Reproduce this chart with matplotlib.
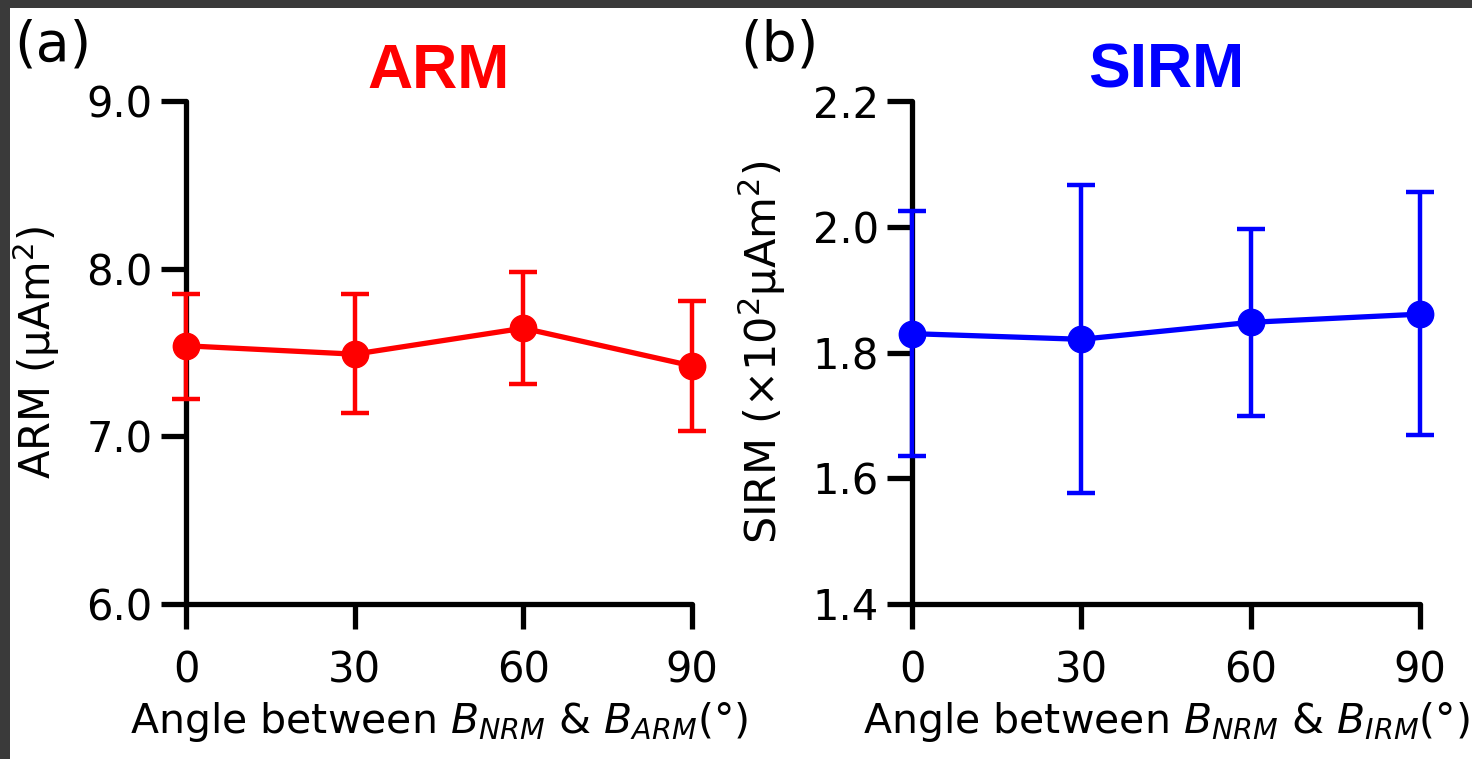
import numpy as np
import matplotlib
matplotlib.use("Agg")
import matplotlib.pyplot as plt
from matplotlib.patches import Rectangle

# data
angles = [0, 30, 60, 90]

arm = [7.54, 7.49, 7.645, 7.42]
arm_top = [7.85, 7.85, 7.98, 7.81]
arm_bot = [7.225, 7.14, 7.31, 7.03]

sirm = [1.830, 1.821, 1.848, 1.861]
sirm_top = [2.025, 2.067, 1.997, 2.055]
sirm_bot = [1.635, 1.576, 1.699, 1.668]

arm_yticks = [6.0, 7.0, 8.0, 9.0]
sirm_yticks = [1.4, 1.6, 1.8, 2.0, 2.2]

plt.rcParams['font.family'] = ['DejaVu Sans']
plt.rcParams['mathtext.fontset'] = 'dejavusans'

fig = plt.figure(figsize=(14.72, 7.59), dpi=100)
ax1 = fig.add_axes([186/1472, 1-604/759, 506/1472, 503/759])
ax2 = fig.add_axes([912/1472, 1-604/759, 508/1472, 503/759])


def style(ax, yticks, fmt):
    for s in ['top', 'right']:
        ax.spines[s].set_visible(False)
    for s in ['left', 'bottom']:
        ax.spines[s].set_linewidth(3.8)
        ax.spines[s].set_capstyle('round')
    ax.set_xlim(0, 90)
    ax.set_ylim(yticks[0], yticks[-1])
    ax.set_xticks(angles)
    ax.set_yticks(yticks)
    ax.set_yticklabels([fmt.format(t) for t in yticks])
    ax.tick_params(axis='both', length=18, width=3.8, labelsize=30)
    ax.tick_params(axis='y', pad=6)
    ax.tick_params(axis='x', pad=15)


def draw(ax, y, top, bot, col):
    y = np.array(y)
    err = [y - np.array(bot), np.array(top) - y]
    eb = ax.errorbar(angles, y, yerr=err, color=col, lw=3.8, marker='o', ms=19,
                     capsize=10, capthick=3.2, elinewidth=3.2, zorder=5)
    for a in eb.lines[0:1] + tuple(eb.lines[1]) + tuple(eb.lines[2]):
        a.set_clip_on(False)


draw(ax1, arm, arm_top, arm_bot, '#ff0000')
style(ax1, arm_yticks, '{:.1f}')
ax1.set_ylabel('ARM (μAm$^2$)', fontsize=30)
ax1.set_xlabel('Angle between $B_{NRM}$ & $B_{ARM}$(°)', fontsize=29.5)
ax1.yaxis.set_label_coords(-0.245, 0.5)
ax1.xaxis.set_label_coords(0.5, -0.19)
ax1.set_title('ARM', color='#ff0000', fontsize=45, fontweight='bold',
              family='Liberation Sans', pad=2)

draw(ax2, sirm, sirm_top, sirm_bot, '#0000ff')
style(ax2, sirm_yticks, '{:.1f}')
ax2.set_ylabel('SIRM (×10$^2$μAm$^2$)', fontsize=31)
ax2.set_xlabel('Angle between $B_{NRM}$ & $B_{IRM}$(°)', fontsize=29.5)
ax2.yaxis.set_label_coords(-0.245, 0.5)
ax2.xaxis.set_label_coords(0.5, -0.19)
ax2.set_title('SIRM', color='#0000ff', fontsize=45, fontweight='bold',
              family='Liberation Sans', pad=2)

fig.text(14/1472, 1-45/759, '(a)', fontsize=40, va='center', ha='left')
fig.text(740/1472, 1-45/759, '(b)', fontsize=40, va='center', ha='left')

# dark frame strips along top and left edge
fig.add_artist(Rectangle((0, 1-8/759), 1, 8/759, transform=fig.transFigure,
                         color='#3a3a3a', lw=0))
fig.add_artist(Rectangle((0, 0), 10/1472, 1, transform=fig.transFigure,
                         color='#3a3a3a', lw=0))

fig.savefig('out.png', dpi=100)
